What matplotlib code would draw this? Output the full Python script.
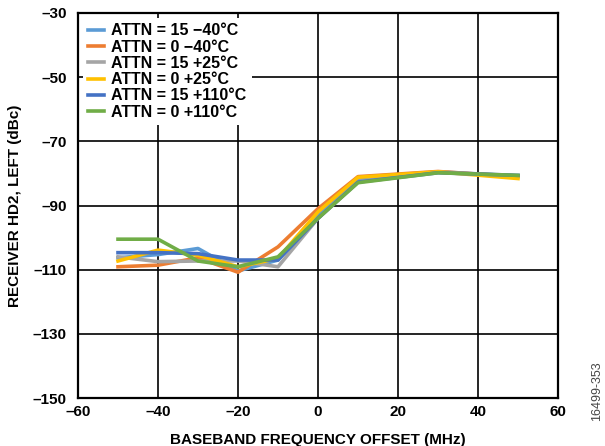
import matplotlib
matplotlib.use('Agg')
import matplotlib.pyplot as plt

plt.rcParams['font.family'] = ['Liberation Sans', 'DejaVu Sans']
plt.rcParams['font.weight'] = 'bold'

freq = [-50, -40, -30, -20, -10, 0, 10, 30, 50]
labels = ['ATTN = 15 \u221240\u00b0C', 'ATTN = 0 \u221240\u00b0C', 'ATTN = 15 +25\u00b0C',
          'ATTN = 0 +25\u00b0C', 'ATTN = 15 +110\u00b0C', 'ATTN = 0 +110\u00b0C']
attn15_m40 = [-106.3, -105.3, -103.4, -110.4, -107.0, -93.0, -82.0, -79.5, -80.8]
attn0_m40 = [-109.1, -108.6, -106.3, -110.8, -102.9, -91.0, -81.0, -79.4, -81.0]
attn15_p25 = [-106.0, -107.5, -107.3, -107.3, -109.1, -94.0, -82.5, -79.6, -80.8]
attn0_p25 = [-107.3, -103.9, -105.5, -109.1, -106.5, -92.0, -81.2, -79.5, -81.6]
attn15_p110 = [-104.7, -104.7, -105.0, -107.0, -107.0, -94.0, -82.7, -79.8, -80.6]
attn0_p110 = [-100.5, -100.5, -107.3, -109.1, -106.0, -94.0, -82.9, -79.8, -80.6]
series = [attn15_m40, attn0_m40, attn15_p25, attn0_p25, attn15_p110, attn0_p110]
colors = ['#5B9BD5', '#ED7D31', '#A5A5A5', '#FFC000', '#4472C4', '#70AD47']

fig = plt.figure(figsize=(6.05, 4.46), dpi=100)
ax = fig.add_axes([78/605, 48/446, 480/605, 385/446])

for y, c, lab in zip(series, colors, labels):
    ax.plot(freq, y, color=c, lw=2.6, label=lab)

ax.set_xlim(-60, 60)
ax.set_ylim(-150, -30)
ax.set_xticks(range(-60, 61, 20))
ax.set_yticks(range(-150, -29, 20))
ax.set_xticklabels([str(v).replace('-', '\u2013') for v in range(-60, 61, 20)])
ax.set_yticklabels([str(v).replace('-', '\u2013') for v in range(-150, -29, 20)])
ax.grid(True, color='black', lw=1.2)
ax.tick_params(length=0, labelsize=11, pad=8)
ax.tick_params(axis='x', pad=5)
for s in ax.spines.values():
    s.set_linewidth(1.6)
ax.set_xlabel('BASEBAND FREQUENCY OFFSET (MHz)', fontsize=11, fontweight='bold', labelpad=10)
ax.set_ylabel('RECEIVER HD2, LEFT (dBc)', fontsize=11, fontweight='bold', labelpad=8)

leg = ax.legend(loc='upper left', frameon=True, fontsize=11.5, handlelength=0.95,
                labelspacing=0.08, borderaxespad=0.3, borderpad=0.35, handletextpad=0.45)
leg.get_frame().set_edgecolor('none')
leg.get_frame().set_alpha(1)
for t in leg.get_texts():
    t.set_fontweight('bold')

fig.text(0.987, 0.123, '16499-353', rotation=90, fontsize=9, color='#444444',
         fontweight='normal', ha='center', va='center')

fig.savefig('out.png', dpi=100)
